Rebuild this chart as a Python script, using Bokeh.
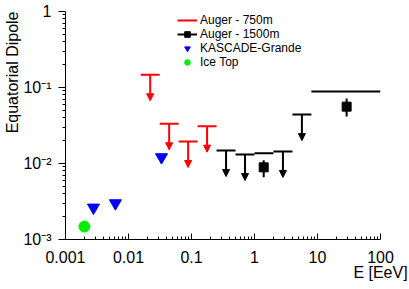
import math
from bokeh.plotting import figure
from bokeh.models import (ColumnDataSource, Arrow, NormalHead, Legend, LegendItem,
                          FixedTicker, CustomJSTickFormatter, Title)
from bokeh.embed import file_html
from bokeh.resources import INLINE

# ---- data ----
red_lo = [0.015625, 0.03125, 0.0625, 0.125]
red_hi = [0.03125, 0.0625, 0.125, 0.25]
red_ul = [0.147, 0.0333, 0.0195, 0.031]

blk_lo = [0.25, 0.5, 1.0, 2.0, 4.0, 8.0]
blk_hi = [0.5, 1.0, 2.0, 4.0, 8.0, 100.0]
blk_ul = [0.0148, 0.0131, 0.0136, 0.0144, 0.044, 0.0886]
blk_arrow = [True, True, False, True, True, False]

blk_E = [1.4, 29.0]
blk_amp = [0.0089, 0.056]
blk_err_lo = [0.0066, 0.0415]
blk_err_hi = [0.011, 0.0717]

kg_E = [0.00278, 0.0062, 0.0334]
kg_amp = [0.00263, 0.0030, 0.0121]

it_E = [0.002]
it_amp = [0.00148]

x_ticks = [0.001, 0.01, 0.1, 1, 10, 100]
y_ticks = [0.001, 0.01, 0.1, 1]

ARROW_DROP = 10 ** (-26 / 76.0)  # arrow length (style)

p = figure(frame_width=315, frame_height=228, x_axis_type="log", y_axis_type="log",
           x_range=(0.001, 100), y_range=(0.001, 1),
           output_backend="svg", toolbar_location=None,
           min_border_left=65, min_border_right=29, min_border_top=11, min_border_bottom=50)
p.outline_line_color = None
p.xgrid.visible = False
p.ygrid.visible = False
p.background_fill_color = "white"
p.border_fill_color = "white"

def minor(decades):
    out = []
    for d in decades:
        for m in range(2, 10):
            out.append(m * 10 ** d)
    return out

p.xaxis.ticker = FixedTicker(ticks=x_ticks, minor_ticks=minor(range(-3, 2)))
p.yaxis.ticker = FixedTicker(ticks=y_ticks, minor_ticks=minor(range(-3, 0)))

p.xaxis.formatter = CustomJSTickFormatter(code="""
const e = Math.round(Math.log10(tick));
return e < 0 ? tick.toFixed(-e) : tick.toFixed(0);
""")
p.yaxis.formatter = CustomJSTickFormatter(code="""
const e = Math.round(Math.log10(tick));
if (e == 0) return "1";
const s = {"-":"\u207b","0":"\u2070","1":"\u00b9","2":"\u00b2","3":"\u00b3","4":"\u2074","5":"\u2075"};
return "10" + String(e).split("").map(c => s[c]).join("");
""")

for ax in (p.xaxis, p.yaxis):
    ax.axis_line_color = "black"
    ax.major_tick_line_color = "black"
    ax.minor_tick_line_color = "black"
    ax.major_label_text_font = "Liberation Sans"
    ax.major_label_text_font_size = "16px"
    ax.major_label_text_color = "black"
    ax.axis_label_text_font = "Liberation Sans"
    ax.axis_label_text_font_size = "16px"
    ax.axis_label_text_font_style = "normal"
    ax.axis_label_text_color = "black"

p.xaxis.axis_label = "E [EeV]"
p.xaxis.axis_label_align = "end"
p.xaxis.axis_label_text_align = "right"
p.xaxis.axis_label_standoff = -2

# y title, top-aligned (ROOT style)
p.add_layout(Title(text="Equatorial Dipole", align="right", standoff=0, offset=0,
                   text_font="Liberation Sans", text_font_size="16px",
                   text_font_style="normal", text_color="black"), "left")

p.xaxis.major_tick_in = 6
p.xaxis.major_tick_out = 0
p.xaxis.minor_tick_in = 3
p.xaxis.minor_tick_out = 0
p.xaxis.major_label_standoff = 11

p.yaxis.major_tick_in = 0
p.yaxis.major_tick_out = 7
p.yaxis.minor_tick_in = 0
p.yaxis.minor_tick_out = 3
p.yaxis.major_label_standoff = 7

# ---- Auger 750m upper limits ----
red_src = ColumnDataSource(dict(
    x0=red_lo, x1=red_hi, y=red_ul,
    xc=[math.sqrt(a * b) for a, b in zip(red_lo, red_hi)],
    ye=[v * ARROW_DROP for v in red_ul]))
red_seg = p.segment(x0="x0", y0="y", x1="x1", y1="y", source=red_src,
                    line_color="red", line_width=2)
p.add_layout(Arrow(source=red_src, x_start="xc", y_start="y", x_end="xc", y_end="ye",
                   line_color="red", line_width=2,
                   end=NormalHead(size=7, fill_color="red", line_color="red", line_width=1)))

# ---- Auger 1500m upper limits ----
blk_src = ColumnDataSource(dict(x0=blk_lo, x1=blk_hi, y=blk_ul))
blk_seg = p.segment(x0="x0", y0="y", x1="x1", y1="y", source=blk_src,
                    line_color="black", line_width=2)
ai = [i for i, a in enumerate(blk_arrow) if a]
arr_src = ColumnDataSource(dict(
    xc=[math.sqrt(blk_lo[i] * blk_hi[i]) for i in ai],
    y=[blk_ul[i] for i in ai],
    ye=[blk_ul[i] * ARROW_DROP for i in ai]))
p.add_layout(Arrow(source=arr_src, x_start="xc", y_start="y", x_end="xc", y_end="ye",
                   line_color="black", line_width=2,
                   end=NormalHead(size=7, fill_color="black", line_color="black", line_width=1)))

# ---- Auger 1500m measurements ----
m_src = ColumnDataSource(dict(x=blk_E, y=blk_amp, lo=blk_err_lo, hi=blk_err_hi))
p.segment(x0="x", y0="lo", x1="x", y1="hi", source=m_src, line_color="black", line_width=2)
sq = p.scatter(x="x", y="y", source=m_src, marker="square", size=9,
               fill_color="black", line_color="black")

# ---- KASCADE-Grande ----
kg = p.scatter(x=kg_E, y=kg_amp, marker="inverted_triangle", size=12,
               fill_color="blue", line_color="blue")

# ---- IceTop ----
it = p.scatter(x=it_E, y=it_amp, marker="circle", size=11,
               fill_color="#00ee00", line_color="#00ee00")

legend = Legend(items=[
    LegendItem(label="Auger - 750m", renderers=[red_seg]),
    LegendItem(label="Auger - 1500m", renderers=[blk_seg, sq]),
    LegendItem(label="KASCADE-Grande", renderers=[kg]),
    LegendItem(label="Ice Top", renderers=[it]),
], location=(112, 170))
legend.background_fill_alpha = 0
legend.border_line_color = None
legend.padding = 0
legend.margin = 0
legend.spacing = 0
legend.glyph_width = 20
legend.glyph_height = 14
legend.label_height = 14
legend.label_standoff = 3
legend.label_text_font = "Liberation Sans"
legend.label_text_font_size = "12px"
legend.label_text_color = "black"
p.add_layout(legend)

open("out.html", "w").write(file_html(p, INLINE))
